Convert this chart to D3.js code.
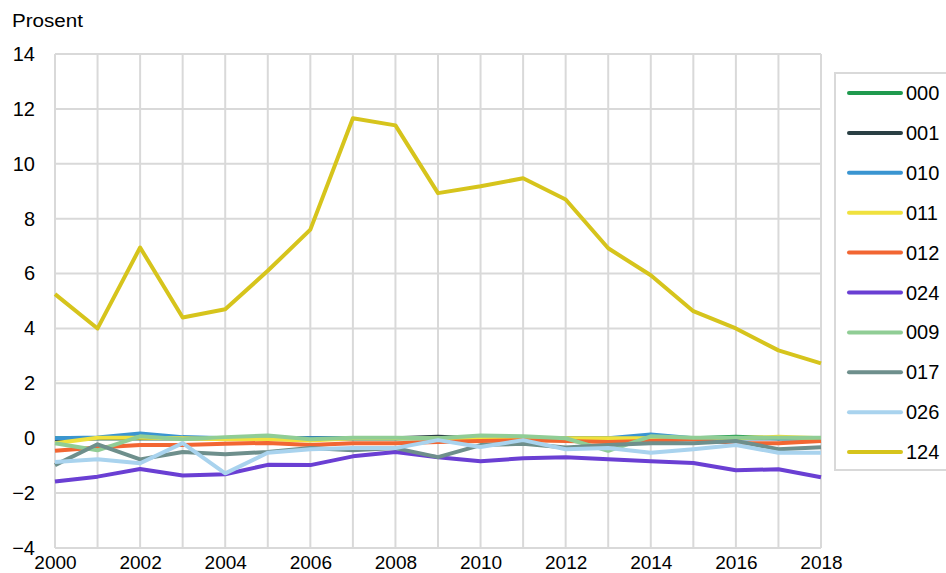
<!DOCTYPE html>
<html><head><meta charset="utf-8">
<script src="https://cdn.jsdelivr.net/npm/d3@7"></script>
<style>body{margin:0;background:#fff}text{font-family:"Liberation Sans",Arial,sans-serif}</style>
</head><body><svg id="c" width="946" height="573"></svg>
<script>
const years = d3.range(2000, 2019);
const seriesNames = ["000","001","010","011","012","024","009","017","026","124"];
const seriesColors = ["#1f9a4e","#2a3f44","#3a95d1","#f0e13e","#f26632","#6a3fd3","#90cd95","#6e8f8c","#a9d3ee","#d6c41c"];
const s000 = [0,0,0,0,0,0,0,0,0,0,0,0,0,0,0,0,0.05,0,0];
const s001 = [-0.05,0,0,0,0,0,0,0,0,0.05,0,0,0,0,0,0,0,0,0];
const s010 = [0,0.03,0.17,0.04,0,0,0,0,0,0,0,0,0,0,0.14,0,0,0,0];
const s011 = [-0.18,0.02,0.02,0,-0.04,-0.04,-0.08,0,0,0,0,0,0,0,0,0,0,0.05,0];
const s012 = [-0.46,-0.34,-0.25,-0.25,-0.2,-0.17,-0.25,-0.18,-0.18,-0.14,-0.1,-0.07,-0.1,-0.14,-0.1,-0.04,-0.18,-0.18,-0.1];
const s024 = [-1.58,-1.4,-1.12,-1.36,-1.31,-0.97,-0.98,-0.66,-0.5,-0.69,-0.84,-0.73,-0.69,-0.77,-0.84,-0.9,-1.17,-1.13,-1.42];
const s009 = [-0.18,-0.44,0.07,-0.04,0.04,0.1,-0.04,0.02,0.02,0,0.1,0.07,0,-0.46,0.07,0.02,0.02,0.02,0.02];
const s017 = [-0.98,-0.22,-0.77,-0.5,-0.58,-0.5,-0.36,-0.44,-0.36,-0.69,-0.25,-0.2,-0.34,-0.25,-0.18,-0.18,-0.1,-0.4,-0.33];
const s026 = [-0.87,-0.77,-0.91,-0.18,-1.28,-0.53,-0.4,-0.36,-0.36,-0.07,-0.32,-0.07,-0.4,-0.36,-0.53,-0.4,-0.25,-0.53,-0.53];
const s124 = [5.25,4.0,6.95,4.4,4.7,6.1,7.6,11.66,11.4,8.93,9.18,9.47,8.7,6.92,5.94,4.63,4.0,3.2,2.73];
const seriesValues = [s000,s001,s010,s011,s012,s024,s009,s017,s026,s124];
const xTicks = [2000,2002,2004,2006,2008,2010,2012,2014,2016,2018];
const yTicks = [-4,-2,0,2,4,6,8,10,12,14];
const yTitle = "Prosent";

const FONT = "Liberation Sans, Arial, sans-serif";
const svg = d3.select("#c");
const x = d3.scaleLinear().domain([2000,2018]).range([55,821]);
const y = d3.scaleLinear().domain([-4,14]).range([548,54]);

// grid
svg.append("g").selectAll("line").data(years).join("line")
  .attr("x1",d=>x(d)).attr("x2",d=>x(d)).attr("y1",y(14)).attr("y2",y(-4))
  .attr("stroke","#d9d9d9").attr("stroke-width",2);
svg.append("g").selectAll("line").data(yTicks).join("line")
  .attr("x1",x(2000)).attr("x2",x(2018)).attr("y1",d=>y(d)).attr("y2",d=>y(d))
  .attr("stroke","#d9d9d9").attr("stroke-width",2);

// axes labels
const yAxis = d3.axisLeft(y).tickValues(yTicks).tickSize(0).tickPadding(0).tickFormat(d3.format("d"));
const gy = svg.append("g").attr("transform","translate(35,0)").call(yAxis);
gy.select(".domain").remove();
gy.selectAll("text").attr("font-size",20).attr("fill","#000").style("font-family",FONT);

const xAxis = d3.axisBottom(x).tickValues(xTicks).tickSize(0).tickPadding(0).tickFormat(d3.format("d"));
const gx = svg.append("g").attr("transform","translate(0,555)").call(xAxis);
gx.select(".domain").remove();
gx.selectAll("text").attr("font-size",19).attr("fill","#000").style("font-family",FONT);

svg.append("text").attr("x",12).attr("y",27).attr("font-size",18)
  .attr("textLength",71).attr("lengthAdjust","spacingAndGlyphs").text(yTitle);

// lines
const line = d3.line().x((d,i)=>x(years[i])).y(d=>y(d));
seriesValues.forEach((vals,k)=>{
  svg.append("path").datum(vals).attr("d",line).attr("fill","none")
    .attr("stroke",seriesColors[k]).attr("stroke-width",4).attr("stroke-linejoin","round");
});

// legend
svg.append("rect").attr("x",835).attr("y",73).attr("width",130).attr("height",397)
  .attr("fill","#fff").attr("stroke","#d9d9d9").attr("stroke-width",2);
const lg = svg.append("g").selectAll("g").data(seriesNames).join("g")
  .attr("transform",(d,i)=>`translate(0,${93+i*39.9})`);
lg.append("line").attr("x1",849).attr("x2",901).attr("y1",0).attr("y2",0)
  .attr("stroke",(d,i)=>seriesColors[i]).attr("stroke-width",4).attr("stroke-linecap","round");
lg.append("text").attr("x",906).attr("y",7).attr("font-size",20).text(d=>d);
</script></body></html>
